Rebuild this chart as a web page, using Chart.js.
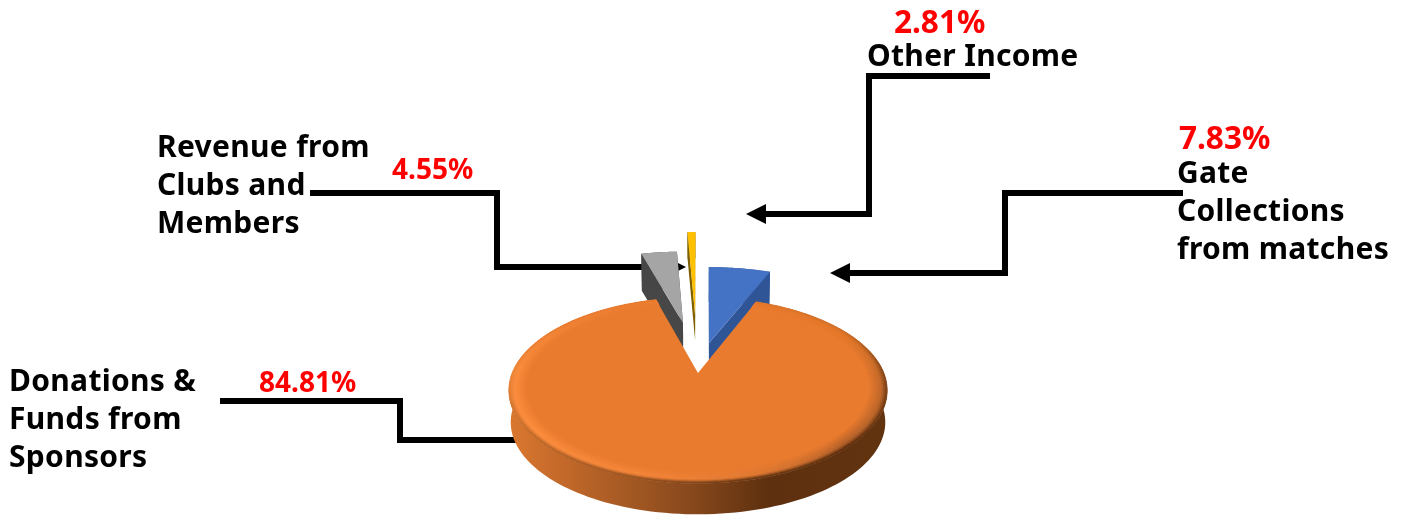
<!DOCTYPE html>
<html>
<head>
<meta charset="utf-8">
<style>html,body{margin:0;padding:0;background:#fff}canvas{display:block}</style>
<script src="https://cdn.jsdelivr.net/npm/chart.js@4"></script>
</head>
<body>
<canvas id="pie" width="1407" height="516"></canvas>
<script>
// Income shares, clockwise from the sponsor slice
const sliceLabels = ['Donations & Funds from Sponsors', 'Revenue from Clubs and Members', 'Other Income', 'Gate Collections from matches'];
const sliceValues = [84.81, 4.55, 2.81, 7.83];
const sliceColours = ['#e97b2f', '#a5a5a5', '#ffc000', '#4472c4'];
const wallColours = ['#84461b', '#474747', '#7f6000', '#2f5597'];

// How each slice sits in the tilted view: explosion, radius at both cut edges, apparent edge shift (degrees), wall height
const sliceView = [
  {shiftA: -5.8, shiftB: 11.9, rA: 1.01, rB: 1.01, du: 0, dv: 0, depth: 32},
  {shiftA: 11.95, shiftB: 8.0, rA: 1.2, rB: 1.2, du: -0.091, dv: -0.628, depth: 36},
  {shiftA: 8.56, shiftB: 0.8, rA: 1.504, rB: 1.504, du: -0.018, dv: -0.742, depth: 25},
  {shiftA: 1.4, shiftB: -5.6, rA: 1.17, rB: 1.165, du: 0.064, dv: -0.36, depth: 34}
];
const drawOrder = [1, 2, 3, 0];

// Tilted-plane projection constants
const tilt = {k: 0.185, sx: 184 / 143, sy: 88.9 / 143, bottomScale: 0.99};

// Callout text and leader lines; head is the arrow direction along x
const calloutFont = '700 30px "Noto Sans"';
const callouts = [
  {lines: ['Revenue from', 'Clubs and', 'Members'], x: 157, y: 157, pct: 1, px: 392, py: 179, pctSize: 28,
   path: [[310,193],[497,193],[497,267],[670,267]], arrow: [686,267], head: 1},
  {lines: ['Donations &', 'Funds from', 'Sponsors'], x: 9, y: 391, pct: 0, px: 259, py: 392, pctSize: 28,
   path: [[220,401],[400,401],[400,440],[520,440]]},
  {lines: ['Other Income'], x: 867, y: 66, pct: 2, px: 894, py: 33, pctSize: 31.5,
   path: [[990,76],[869,76],[869,214],[760,214]], arrow: [746,214], head: -1},
  {lines: ['Gate', 'Collections', 'from matches'], x: 1177, y: 183, pct: 3, px: 1179, py: 149, pctSize: 31.5,
   path: [[1183,193],[1005,193],[1005,273],[845,273]], arrow: [830,273], head: -1}
];

// Bevel shading round the clock: angle, brightest tone, tone where the bevel meets the wall
const rimStops = [
  [0,'#e97b2f','#e97b2f'],[60,'#e37729','#d27028'],[90,'#c46a2a','#8a4a1c'],[135,'#b0602a','#5c2e0e'],
  [165,'#e07a33','#6b3814'],[190,'#f2853a','#8f4d1e'],[230,'#fd8f40','#c06a2a'],[270,'#fb8d3e','#ee873b'],
  [315,'#ef8235','#ea7b2f'],[360,'#e97b2f','#e97b2f']
];

const hex = c => [1,3,5].map(i => parseInt(c.substr(i,2),16));
const mix = (a,b,t) => { const A=hex(a),B=hex(b); return '#'+A.map((v,i)=>Math.round(v+(B[i]-v)*t).toString(16).padStart(2,'0')).join(''); };
function rimTones(deg){
  deg = ((deg%360)+360)%360;
  for(let i=1;i<rimStops.length;i++) if(deg<=rimStops[i][0]){
    const p=rimStops[i-1],q=rimStops[i],t=(deg-p[0])/(q[0]-p[0]);
    return [mix(p[1],q[1],t),mix(p[2],q[2],t)];
  }
  return [rimStops[0][1],rimStops[0][2]];
}

// Ground-plane point (unit radius) to canvas pixels; drop is the wall height below the top face
function project(arc,u,v,drop){
  const R=arc.outerRadius, w=1-tilt.k*v, s=drop?tilt.bottomScale:1;
  return [arc.x+tilt.sx*R*u*s/w, arc.y+tilt.sy*R*v*s/w+drop];
}
function clockRange(arc,view){
  return [arc.startAngle+Math.PI/2+view.shiftA*Math.PI/180, arc.endAngle+Math.PI/2+view.shiftB*Math.PI/180];
}
function rimPoint(arc,view,t,rScale,drop){
  const [a,b]=clockRange(arc,view), ang=a+(b-a)*t, r=(view.rA+(view.rB-view.rA)*t)*rScale;
  return project(arc,view.du+r*Math.sin(ang),view.dv-r*Math.cos(ang),drop);
}
function fillPoly(ctx,pts,fill,edge){
  ctx.beginPath();
  pts.forEach((p,i)=>i?ctx.lineTo(p[0],p[1]):ctx.moveTo(p[0],p[1]));
  ctx.closePath();
  ctx.fillStyle=fill; ctx.fill();
  if(edge){ctx.strokeStyle=edge;ctx.lineWidth=0.7;ctx.stroke();}
}
function outline(arc,view,drop,steps){
  const pts=[project(arc,view.du,view.dv,drop)];
  for(let i=0;i<=steps;i++) pts.push(rimPoint(arc,view,i/steps,1,drop));
  return pts;
}

function drawWedge(ctx,arc,view,i){
  const top=outline(arc,view,0,24), base=outline(arc,view,view.depth,24);
  for(let j=0;j<top.length;j++){
    const n=(j+1)%top.length;
    fillPoly(ctx,[top[j],top[n],base[n],base[j]],wallColours[i]);
  }
  fillPoly(ctx,top,sliceColours[i]);
}

function drawMainSlice(ctx,arc,view,i){
  const steps=180, rx=tilt.sx*arc.outerRadius*view.rA;
  // outer wall, shaded across its width
  const wall=ctx.createLinearGradient(arc.x-rx,0,arc.x+rx,0);
  wall.addColorStop(0,'#d9772f'); wall.addColorStop(0.13,'#c4692a'); wall.addColorStop(0.29,'#a85b24');
  wall.addColorStop(0.5,wallColours[i]); wall.addColorStop(0.69,'#5e300f'); wall.addColorStop(1,'#62330f');
  const side=[];
  for(let s=0;s<=steps;s++) side.push(rimPoint(arc,view,s/steps,1,0));
  for(let s=steps;s>=0;s--) side.push(rimPoint(arc,view,s/steps,1,view.depth));
  fillPoly(ctx,side,wall);
  // flat top face
  fillPoly(ctx,outline(arc,view,0,steps),sliceColours[i]);
  // rounded bevel round the edge of the top face
  const [a,b]=clockRange(arc,view), bands=10, inner=0.91;
  for(let k=0;k<bands;k++){
    const r0=inner+(1-inner)*k/bands, r1=inner+(1-inner)*(k+1)/bands, f=(k+1)/bands;
    for(let s=0;s<steps;s++){
      const t0=s/steps,t1=(s+1)/steps, deg=(a+(b-a)*(t0+t1)/2)*180/Math.PI;
      const [hi,low]=rimTones(deg);
      const c=f<0.75?mix(sliceColours[i],hi,f/0.75):mix(hi,low,(f-0.75)/0.25);
      fillPoly(ctx,[rimPoint(arc,view,t0,r0,0),rimPoint(arc,view,t1,r0,0),rimPoint(arc,view,t1,r1,0),rimPoint(arc,view,t0,r1,0)],c,c);
    }
  }
}

const pie3d = {
  id: 'pie3d',
  beforeDatasetsDraw(chart){
    const ctx=chart.ctx;
    ctx.save();
    ctx.strokeStyle='#000'; ctx.fillStyle='#000'; ctx.lineWidth=6; ctx.lineJoin='miter'; ctx.lineCap='butt';
    callouts.forEach(c=>{
      ctx.beginPath();
      c.path.forEach((p,i)=>i?ctx.lineTo(p[0],p[1]):ctx.moveTo(p[0],p[1]));
      ctx.stroke();
      if(c.arrow){
        const [tx,ty]=c.arrow, bx=tx-c.head*20;
        ctx.beginPath();ctx.moveTo(tx,ty);ctx.lineTo(bx,ty-10);ctx.lineTo(bx,ty+10);ctx.closePath();ctx.fill();
      }
    });
    ctx.restore();
  },
  // slices are painted back to front with their walls, replacing the flat default arcs
  beforeDatasetDraw(chart,args){
    const ctx=chart.ctx, arcs=args.meta.data;
    ctx.save();
    drawOrder.forEach(i=>{
      if(i===0) drawMainSlice(ctx,arcs[i],sliceView[i],i);
      else drawWedge(ctx,arcs[i],sliceView[i],i);
    });
    ctx.restore();
    return false;
  },
  afterDatasetsDraw(chart){
    const ctx=chart.ctx;
    ctx.save();
    ctx.textBaseline='alphabetic'; ctx.textAlign='left';
    callouts.forEach(c=>{
      ctx.font=calloutFont;
      ctx.letterSpacing='0.3px';
      ctx.fillStyle='#000';
      c.lines.forEach((t,i)=>ctx.fillText(t,c.x,c.y+i*38));
      ctx.letterSpacing='0px';
      ctx.font='700 '+c.pctSize+'px "Noto Sans"';
      ctx.fillStyle='#ff0000';
      ctx.fillText(sliceValues[c.pct].toFixed(2)+'%',c.px,c.py);
    });
    ctx.restore();
  }
};

const otherShare = sliceValues.slice(1).reduce((a,b)=>a+b,0);
new Chart(document.getElementById('pie'),{
  type:'pie',
  data:{labels:sliceLabels,datasets:[{data:sliceValues,backgroundColor:sliceColours,borderWidth:0}]},
  options:{
    responsive:false,animation:false,devicePixelRatio:1,
    rotation:otherShare/100*180,
    layout:{padding:{left:0,right:11,top:230,bottom:0}},
    plugins:{legend:{display:false},tooltip:{enabled:false}}
  },
  plugins:[pie3d]
});
</script>
</body>
</html>
